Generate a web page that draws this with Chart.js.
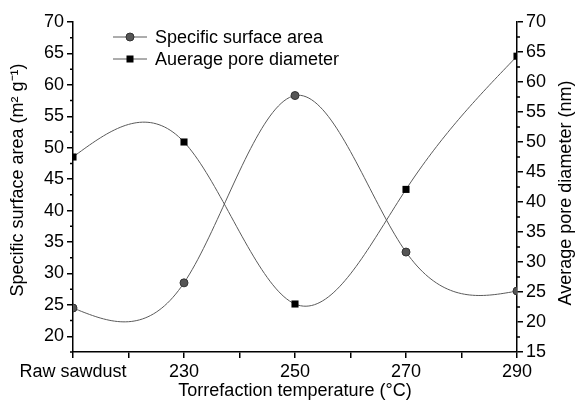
<!DOCTYPE html>
<html>
<head>
<meta charset="utf-8">
<script src="https://cdn.jsdelivr.net/npm/chart.js@4.4.0/dist/chart.umd.min.js"></script>
<style>
  html, body { margin: 0; padding: 0; background: #fff; }
  #wrap { width: 578px; height: 401px; }
</style>
</head>
<body>
<div id="wrap"><canvas id="chart"></canvas></div>
<script>
// values
var categories = ["Raw sawdust", "230", "250", "270", "290"];
var surfaceArea = [24.5, 28.5, 58.3, 33.4, 27.2];      // m2 g-1, left axis
var poreDiameter = [47.5, 50.0, 23.0, 42.1, 64.3];     // nm, right axis
var leftTicks = [20, 25, 30, 35, 40, 45, 50, 55, 60, 65, 70];
var rightTicks = [15, 20, 25, 30, 35, 40, 45, 50, 55, 60, 65, 70];

var leftTitle = 'Specific surface area (m² g⁻¹)';
var rightTitle = 'Average pore diameter (nm)';

var FONT = '"Liberation Sans", Arial, sans-serif';
Chart.defaults.color = '#000';
Chart.defaults.font.family = FONT;

function toPoints(values) {
    return values.map(function (v, i) { return { x: i, y: v }; });
}

// second derivatives of a natural cubic spline on unit spacing
function splineM(y) {
    var n = y.length;
    var M = new Array(n).fill(0);
    if (n < 3) return M;
    var m = n - 2, cp = [], dp = [];
    for (var i = 0; i < m; i++) {
        var d = 6 * (y[i + 2] - 2 * y[i + 1] + y[i]);
        if (i === 0) { cp[i] = 1 / 4; dp[i] = d / 4; }
        else {
            var den = 4 - cp[i - 1];
            cp[i] = 1 / den;
            dp[i] = (d - dp[i - 1]) / den;
        }
    }
    for (var j = m - 1; j >= 0; j--) {
        M[j + 1] = dp[j] - (j < m - 1 ? cp[j] * M[j + 2] : 0);
    }
    return M;
}

var splinePlugin = {
    id: 'spline',
    beforeDatasetsDraw: function (chart) {
        var ctx = chart.ctx;
        var xs = chart.scales.x;
        chart.data.datasets.forEach(function (ds) {
            var ys = chart.scales[ds.yAxisID];
            var y = ds.data.map(function (p) { return p.y; });
            var M = splineM(y);
            ctx.save();
            ctx.beginPath();
            ctx.strokeStyle = '#5a5a5a';
            ctx.lineWidth = 1;
            for (var k = 0; k < y.length - 1; k++) {
                for (var s = 0; s <= 40; s++) {
                    var t = s / 40, u = 1 - t;
                    var v = u * y[k] + t * y[k + 1] +
                        (u * u * u - u) * M[k] / 6 + (t * t * t - t) * M[k + 1] / 6;
                    var px = xs.getPixelForValue(k + t), py = ys.getPixelForValue(v);
                    if (k === 0 && s === 0) ctx.moveTo(px, py); else ctx.lineTo(px, py);
                }
            }
            ctx.stroke();
            ctx.restore();
        });
    },
    afterDraw: function (chart) {
        var ctx = chart.ctx;
        var area = chart.chartArea;
        var yl = chart.scales.yLeft, yr = chart.scales.yRight;
        ctx.save();
        ctx.strokeStyle = '#000';
        ctx.lineWidth = 1.5;
        // minor ticks on the value axes
        ctx.beginPath();
        for (var v = 17.5; v <= 70; v += 5) {
            var py = yl.getPixelForValue(v);
            ctx.moveTo(area.left - 3, py); ctx.lineTo(area.left, py);
        }
        for (var w = 17.5; w <= 70; w += 5) {
            var qy = yr.getPixelForValue(w);
            ctx.moveTo(area.right, qy); ctx.lineTo(area.right + 3, qy);
        }
        ctx.stroke();

        // both y titles read bottom-to-top
        ctx.font = '18px ' + FONT;
        ctx.fillStyle = '#000';
        ctx.textAlign = 'center';
        ctx.textBaseline = 'middle';
        ctx.save();
        ctx.translate(18, 180);
        ctx.rotate(-Math.PI / 2);
        ctx.fillText(leftTitle, 0, 0);
        ctx.restore();
        ctx.save();
        ctx.translate(566, 193);
        ctx.rotate(-Math.PI / 2);
        ctx.fillText(rightTitle, 0, 0);
        ctx.restore();

        // legend inside the plot, line through marker
        var rows = [37, 59];
        ctx.textAlign = 'left';
        chart.data.datasets.forEach(function (ds, i) {
            var ly = rows[i];
            ctx.beginPath();
            ctx.strokeStyle = '#5a5a5a';
            ctx.lineWidth = 1;
            ctx.moveTo(113, ly); ctx.lineTo(147, ly);
            ctx.stroke();
            ctx.fillStyle = ds.backgroundColor;
            if (ds.pointStyle === 'rect') {
                ctx.fillRect(130 - 3.5, ly - 3.5, 7, 7);
            } else {
                ctx.beginPath();
                ctx.arc(130, ly, 4, 0, Math.PI * 2);
                ctx.fill();
                ctx.strokeStyle = ds.borderColor;
                ctx.stroke();
            }
            ctx.fillStyle = '#000';
            ctx.fillText(ds.label, 155, ly + 1);
        });
        ctx.restore();
    }
};

var xTicks = [];
categories.forEach(function (c, i) {
    xTicks.push({ value: i });
    if (i < categories.length - 1) xTicks.push({ value: i + 0.5 });
});

var axisGrid = { drawOnChartArea: false, tickLength: 6, color: '#000', lineWidth: 1.5 };
var axisBorder = { display: true, color: '#000', width: 1.5 };

new Chart(document.getElementById('chart').getContext('2d'), {
    type: 'line',
    data: {
        datasets: [
            {
                label: 'Specific surface area',
                data: toPoints(surfaceArea),
                yAxisID: 'yLeft',
                showLine: false,
                pointStyle: 'circle',
                pointRadius: 4,
                pointBackgroundColor: '#555',
                pointBorderColor: '#333',
                pointBorderWidth: 1,
                backgroundColor: '#555',
                borderColor: '#333'
            },
            {
                label: 'Auerage pore diameter',
                data: toPoints(poreDiameter),
                yAxisID: 'yRight',
                showLine: false,
                pointStyle: 'rect',
                pointRadius: 5,
                pointBackgroundColor: '#000',
                pointBorderColor: '#000',
                pointBorderWidth: 0,
                backgroundColor: '#000',
                borderColor: '#000'
            }
        ]
    },
    options: {
        responsive: true,
        maintainAspectRatio: false,
        animation: false,
        layout: { padding: { top: 22, left: 0, right: 0, bottom: 0 } },
        plugins: { legend: { display: false }, tooltip: { enabled: false } },
        scales: {
            x: {
                type: 'linear',
                min: 0,
                max: categories.length - 1,
                afterBuildTicks: function (scale) { scale.ticks = xTicks.slice(); },
                afterFit: function (scale) { scale.height = 49; },
                grid: axisGrid,
                border: axisBorder,
                ticks: {
                    autoSkip: false,
                    maxRotation: 0,
                    padding: 3,
                    font: { size: 18 },
                    callback: function (v) { return Number.isInteger(v) ? categories[v] : ''; }
                },
                title: {
                    display: true,
                    text: 'Torrefaction temperature (°C)',
                    font: { size: 18, lineHeight: 1 },
                    padding: { top: 0, bottom: 1 }
                }
            },
            yLeft: {
                type: 'linear',
                position: 'left',
                min: 17.5,
                max: 70,
                afterBuildTicks: function (scale) {
                    scale.ticks = leftTicks.map(function (v) { return { value: v }; });
                },
                afterFit: function (scale) { scale.width = 73; },
                grid: axisGrid,
                border: axisBorder,
                ticks: { padding: 3, font: { size: 18 } }
            },
            yRight: {
                type: 'linear',
                position: 'right',
                min: 15,
                max: 70,
                afterBuildTicks: function (scale) {
                    scale.ticks = rightTicks.map(function (v) { return { value: v }; });
                },
                afterFit: function (scale) { scale.width = 61; },
                grid: axisGrid,
                border: axisBorder,
                ticks: { padding: 3, font: { size: 18 } }
            }
        }
    },
    plugins: [splinePlugin]
});
</script>
</body>
</html>
